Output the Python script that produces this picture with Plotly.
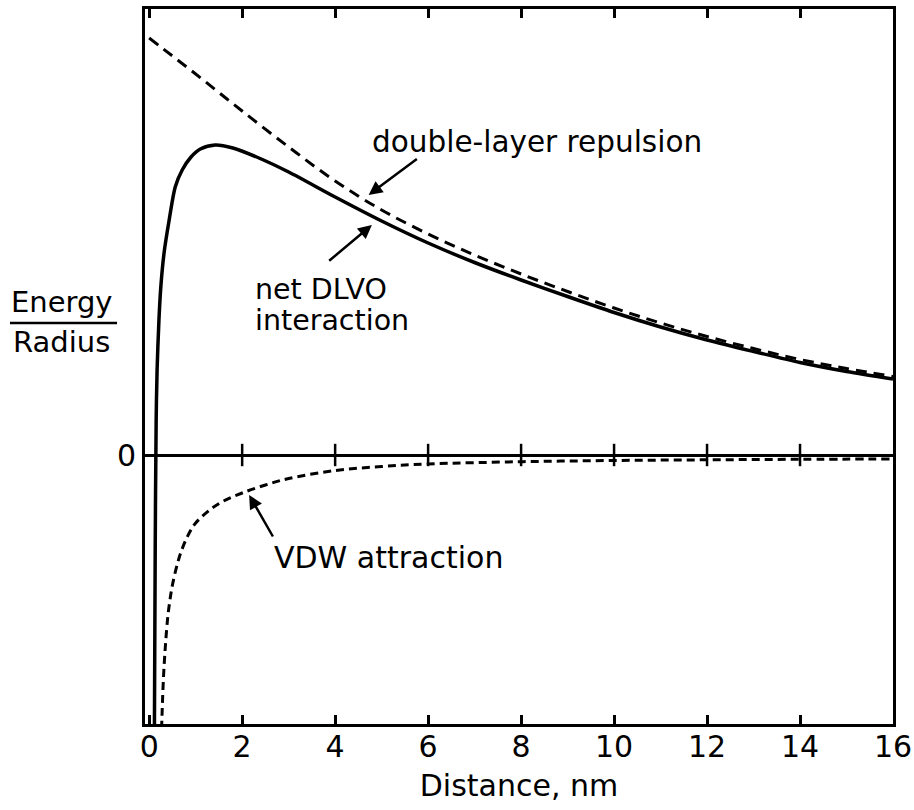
import plotly.graph_objects as go

# ---- data (y in arbitrary Energy/Radius units) ----
dl_x = [0, 0.5, 1, 1.5, 2, 3, 4, 5, 6, 7, 8, 9, 10, 11, 12, 13, 14, 15, 16]
dl_y = [4.17, 3.99, 3.81, 3.625, 3.44, 3.08, 2.74, 2.45, 2.21, 2.00, 1.81, 1.635,
        1.47, 1.32, 1.185, 1.065, 0.955, 0.865, 0.785]

net_x = [0.11, 0.13, 0.15, 0.17, 0.21, 0.25, 0.32, 0.43, 0.56, 0.71, 0.9, 1.1,
         1.42, 1.8, 2.36, 3, 4, 5, 6, 7, 8, 9, 10, 11, 12, 13, 14, 15, 16]
net_y = [-3.0, -0.9, 0.35, 0.85, 1.35, 1.68, 2.02, 2.35, 2.68, 2.85, 2.98, 3.06,
         3.10, 3.07, 2.97, 2.83, 2.58, 2.34, 2.12, 1.925, 1.75, 1.585, 1.425, 1.28,
         1.15, 1.035, 0.925, 0.835, 0.76]

vdw_x = [0.25, 0.28, 0.31, 0.35, 0.4, 0.45, 0.5, 0.6, 0.7, 0.85, 1.0, 1.3, 1.6,
         2.0, 2.5, 3, 4, 5, 6, 8, 10, 12, 14, 16]
vdw_y = [-3.0, -2.55, -2.2, -1.9, -1.62, -1.44, -1.30, -1.10, -0.95, -0.79, -0.68,
         -0.55, -0.46, -0.38, -0.30, -0.235, -0.155, -0.115, -0.09, -0.067, -0.055,
         -0.048, -0.043, -0.04]

x_ticks = [0, 2, 4, 6, 8, 10, 12, 14, 16]
zero_ticks = [2, 4, 6, 8, 10, 12, 14]

FONT = "DejaVu Sans"

fig = go.Figure()

# tick marks crossing the zero line
fig.add_trace(go.Scatter(
    x=zero_ticks, y=[0] * len(zero_ticks), mode="markers",
    marker=dict(symbol="line-ns", size=16, line=dict(color="black", width=2.5)),
    hoverinfo="skip", showlegend=False))

fig.add_trace(go.Scatter(
    x=dl_x, y=dl_y, mode="lines", line_shape="spline",
    line=dict(color="black", width=3, dash="11px,7px"), showlegend=False))

fig.add_trace(go.Scatter(
    x=vdw_x, y=vdw_y, mode="lines", line_shape="spline",
    line=dict(color="black", width=3, dash="8px,5px"), showlegend=False))

fig.add_trace(go.Scatter(
    x=net_x, y=net_y, mode="lines", line_shape="spline",
    line=dict(color="black", width=3.5, smoothing=0.8), showlegend=False))

def afont(size):
    return dict(family=FONT, size=size, color="black")

annotations = [
    dict(x=8.35, y=3.13, text="double-layer repulsion", showarrow=False,
         xref="x", yref="y", font=afont(29.5)),
    dict(x=2.23, y=1.66, text="net DLVO", showarrow=False, xanchor="left",
         xref="x", yref="y", font=afont(28.5)),
    dict(x=2.23, y=1.35, text="interaction", showarrow=False, xanchor="left",
         xref="x", yref="y", font=afont(28.5)),
    dict(x=2.64, y=-1.02, text="VDW attraction", showarrow=False, xanchor="left",
         xref="x", yref="y", font=afont(30)),
    # arrows
    dict(x=4.72, y=2.60, ax=5.79, ay=2.97, xref="x", yref="y", axref="x", ayref="y",
         text="", showarrow=True, arrowhead=2, arrowsize=1.1, arrowwidth=2.5,
         arrowcolor="black"),
    dict(x=4.79, y=2.30, ax=3.84, ay=1.93, xref="x", yref="y", axref="x", ayref="y",
         text="", showarrow=True, arrowhead=2, arrowsize=1.1, arrowwidth=2.5,
         arrowcolor="black"),
    dict(x=2.15, y=-0.40, ax=2.68, ay=-0.83, xref="x", yref="y", axref="x", ayref="y",
         text="", showarrow=True, arrowhead=2, arrowsize=1.1, arrowwidth=2.5,
         arrowcolor="black"),
    # y-axis label as a fraction
    dict(x=-0.111, y=0.590, xref="paper", yref="paper", text="Energy",
         xanchor="center", yanchor="middle",
         showarrow=False, font=afont(29)),
    dict(x=-0.111, y=0.534, xref="paper", yref="paper", text="Radius",
         xanchor="center", yanchor="middle",
         showarrow=False, font=afont(29)),
]

fig.update_layout(
    width=914, height=810,
    margin=dict(l=145, r=21, t=9, b=86),
    paper_bgcolor="white", plot_bgcolor="white",
    font=dict(family=FONT, size=30, color="black"),
    annotations=annotations,
    shapes=[dict(type="line", xref="paper", yref="paper",
                 x0=-0.1805, x1=-0.0374, y0=0.561, y1=0.561,
                 line=dict(color="black", width=2.5))],
    xaxis=dict(
        range=[-0.09, 16.0], tickvals=x_ticks, ticktext=[str(v) for v in x_ticks],
        ticks="inside", ticklen=9, tickwidth=2.5, tickcolor="black",
        showline=True, linecolor="black", linewidth=3, mirror="ticks",
        showgrid=False, zeroline=False, automargin=False,
        ticklabelstandoff=-6,
        tickfont=afont(30),
        title=dict(text="Distance, nm", standoff=12, font=afont(30)),
    ),
    yaxis=dict(
        range=[-2.69, 4.46], tickvals=[0], ticktext=["0"], ticks="",
        showline=True, linecolor="black", linewidth=3, mirror=True,
        showgrid=False, zeroline=True, zerolinecolor="black", zerolinewidth=2.5,
        automargin=False, tickfont=afont(30),
    ),
)

fig.write_html("out.html", config={"displayModeBar": False},
               post_script="document.body.style.margin='0px';")
